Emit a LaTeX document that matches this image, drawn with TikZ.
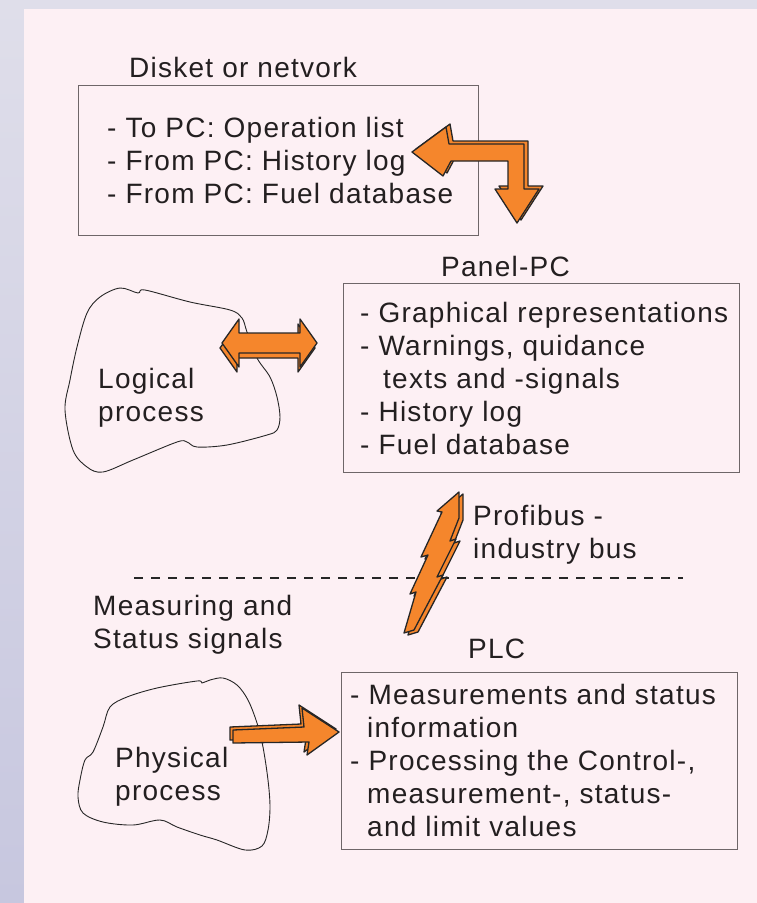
\documentclass[tikz,border=0pt]{standalone}
\usepackage{fontspec}
\setmainfont{Liberation Sans}[LetterSpace=4.5]
\definecolor{lavtop}{HTML}{DFDEEA}
\definecolor{lavbot}{HTML}{C7C7DF}
\definecolor{paper}{HTML}{FDF0F4}
\definecolor{ink}{HTML}{231F20}
\definecolor{frame}{HTML}{6E6668}
\definecolor{boltorange}{HTML}{F5862C}
\definecolor{edge}{HTML}{262626}
\tikzset{
  txt/.style={anchor=base west, inner sep=0pt, text=ink, font=\fontsize{28}{33}\selectfont},
  listbox/.style={draw=frame, line width=1.2pt, anchor=north west, inner sep=0pt},
  blob/.style={draw=edge, line width=0.9pt},
  fatarrow/.style={fill=boltorange, draw=edge, line width=1.3pt, line join=round},
  divider/.style={draw=edge, line width=1.8pt, dash pattern=on 9pt off 8pt}
}
\begin{document}
\begin{tikzpicture}[x=1pt,y=-1pt]
\useasboundingbox (0,0) rectangle (757,903);
% page background
\shade[top color=lavtop, bottom color=lavbot] (0,0) rectangle (757,903);
\fill[paper] (24,9) rectangle (757,903);

% boxes
\node[listbox, minimum width=400pt, minimum height=150pt] (disk) at (78,85) {};
\node[listbox, minimum width=396pt, minimum height=189pt] (panel) at (343,283) {};
\node[listbox, minimum width=396pt, minimum height=177pt] (plc) at (341,672) {};

% process outlines
\draw[blob] plot[smooth cycle, tension=0.55] coordinates {
  (87,313) (100,297) (120,288) (138,293) (145,290) (190,302) (230,310) (242,318)
  (247,332) (257,358) (270,377) (277,397) (280,417) (277,430) (267,435) (227,445)
  (197,447) (187,442) (177,442) (133,460) (103,472) (87,467) (73,450) (65,410)
  (70,380) (77,347)};
\draw[blob] plot[smooth cycle, tension=0.55] coordinates {
  (110,707) (127,697) (157,688) (197,681) (202,683) (210,680) (223,678) (237,685)
  (248,700) (257,723) (263,747) (268,780) (270,807) (268,830) (262,846) (245,850)
  (217,840) (200,835) (177,827) (160,820) (133,825) (103,822) (83,813) (78,797)
  (80,780) (85,760) (93,752) (103,727)};

% field level divider
\coordinate (divL) at (134,578);
\coordinate (divR) at (683,578);
\draw[divider] (divL) -- (divR);

% texts
\node[txt] (disktitle) at (129,77) {Disket or netvork};
\node[txt] (disklist) at (107,137) {\begin{tabular}[t]{@{}l@{}}
- To PC: Operation list\\
- From PC: History log\\
- From PC: Fuel database\end{tabular}};
\node[txt] (paneltitle) at (441,276) {Panel-PC};
\node[txt] (panellist) at (360,322) {\begin{tabular}[t]{@{}l@{}}
- Graphical representations\\
- Warnings, quidance\\
\hspace{23pt}texts and -signals\\
- History log\\
- Fuel database\end{tabular}};
\node[txt] (logical) at (98,388) {\begin{tabular}[t]{@{}l@{}}Logical\\process\end{tabular}};
\node[txt] (bus) at (473,525) {\begin{tabular}[t]{@{}l@{}}Profibus -\\industry bus\end{tabular}};
\node[txt] (signals) at (93,615) {\begin{tabular}[t]{@{}l@{}}Measuring and\\Status signals\end{tabular}};
\node[txt] (plctitle) at (468,658) {PLC};
\node[txt] (plclist) at (350,704) {\begin{tabular}[t]{@{}l@{}}
- Measurements and status\\
\hspace{17pt}information\\
- Processing the Control-,\\
\hspace{17pt}measurement-, status-\\
\hspace{17pt}and limit values\end{tabular}};
\node[txt] (physical) at (115,767) {\begin{tabular}[t]{@{}l@{}}Physical\\process\end{tabular}};

% bent transfer arrow between disk box and panel PC
\foreach \dx/\dy in {4/-3, 0/0}
  \draw[fatarrow, shift={(\dx,\dy)}]
    (412,152) -- (446,127) -- (449,144) -- (524,144) -- (524,189) -- (539,189)
    -- (517,223) -- (495,189) -- (508,189) -- (508,161) -- (451,161) -- (443,176) -- cycle;

% two-way arrow between logical process and panel PC
\foreach \dx/\dy in {-2/5, 0/0}
  \draw[fatarrow, shift={(\dx,\dy)}]
    (222,343) -- (239,319) -- (239,333) -- (300,333) -- (300,319) -- (317,343)
    -- (300,367) -- (300,353) -- (239,353) -- (239,367) -- cycle;

% bus link (lightning)
\foreach \dx/\dy in {4/2, 0/0}
  \draw[fatarrow, shift={(\dx,\dy)}]
    (459,492) -- (437,511) -- (442,512) -- (421,557) -- (428,555) -- (410,594)
    -- (416,592) -- (404,633) -- (414,630) -- (443,575) -- (437,577) -- (456,539)
    -- (450,541) -- (459,518) -- cycle;

% signal arrow from physical process to PLC
\foreach \dx/\dy in {-3/-3, 0/0}
  \draw[fatarrow, shift={(\dx,\dy)}]
    (233,730) -- (304,727) -- (302,708) -- (339,732) -- (307,755) -- (309,742)
    -- (233,743) -- cycle;
\end{tikzpicture}
\end{document}
